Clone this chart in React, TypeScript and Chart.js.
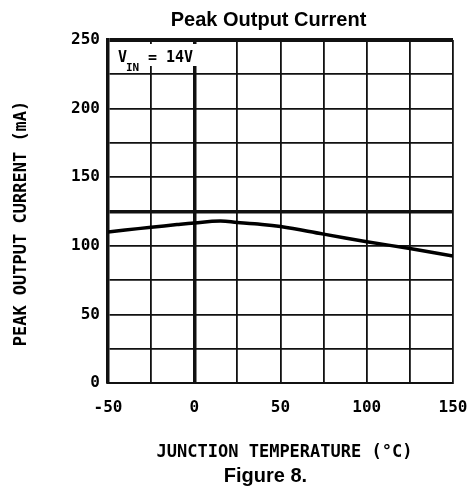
import React, { useEffect, useRef } from "react";
import { Chart, registerables } from "chart.js";

Chart.register(...registerables);

const temps = [-50, -40, -25, -10, 0, 15, 25, 35, 50, 75, 100, 125, 150];
const current = [110, 111.5, 113.5, 115.5, 116.7, 118, 117, 116, 114, 108.5, 103, 98, 92.5];
const xTickLabels = ["-50", "0", "50", "100", "150"];
const yTickLabels = ["0", "50", "100", "150", "200", "250"];
const chartTitle = "Peak Output Current";
const xTitle = "JUNCTION TEMPERATURE (°C)";
const yTitle = "PEAK OUTPUT CURRENT (mA)";
const caption = "Figure 8.";

const MONO = '"DejaVu Sans Mono", monospace';
const SANS = '"Liberation Sans", Arial, sans-serif';

const textPlugin = {
  id: "textPlugin",
  afterDraw(chart: any) {
    const ctx = chart.ctx as CanvasRenderingContext2D;
    const a = chart.chartArea;
    ctx.save();
    ctx.fillStyle = "#000";
    ctx.textAlign = "center";
    ctx.textBaseline = "middle";
    ctx.font = `bold 20px ${SANS}`;
    ctx.fillText(chartTitle, (a.left + a.right) / 2 - 12, a.top - 20);
    ctx.font = `bold 17px ${MONO}`;
    ctx.fillText(xTitle, (a.left + a.right) / 2 + 4, a.bottom + 70);
    ctx.font = `bold 20px ${SANS}`;
    ctx.fillText(caption, (a.left + a.right) / 2 - 15, a.bottom + 93);
    ctx.save();
    ctx.translate(22, (a.top + a.bottom) / 2 + 12);
    ctx.rotate(-Math.PI / 2);
    ctx.font = `bold 17px ${MONO}`;
    ctx.fillText(yTitle, 0, 0);
    ctx.restore();
    ctx.fillStyle = "#fff";
    ctx.fillRect(a.left + 5, a.top + 4, 88, 22);
    ctx.fillStyle = "#000";
    ctx.textAlign = "left";
    ctx.textBaseline = "alphabetic";
    ctx.font = `bold 15px ${MONO}`;
    ctx.fillText("V", a.left + 10, a.top + 22);
    ctx.font = `bold 11px ${MONO}`;
    ctx.fillText("IN", a.left + 18, a.top + 31);
    ctx.font = `bold 15px ${MONO}`;
    ctx.fillText("= 14V", a.left + 40, a.top + 22);
    ctx.restore();
  },
};

export default function App() {
  const ref = useRef<HTMLCanvasElement>(null);
  useEffect(() => {
    if (!ref.current) return;
    const chart = new Chart(ref.current, {
      type: "line",
      data: {
        datasets: [
          {
            data: temps.map((t, i) => ({ x: t, y: current[i] })),
            borderColor: "#000",
            borderWidth: 3.5,
            pointRadius: 0,
            tension: 0.4,
            fill: false,
          },
        ],
      },
      options: {
        animation: false,
        responsive: false,
        layout: { padding: { top: 40, right: 17, left: 0, bottom: 0 } },
        plugins: { legend: { display: false }, title: { display: false }, tooltip: { enabled: false } },
        scales: {
          x: {
            type: "linear",
            min: -50,
            max: 150,
            afterFit: (s: any) => {
              s.height = 108;
              s.paddingLeft = 0;
              s.paddingRight = 0;
            },
            ticks: {
              stepSize: 25,
              autoSkip: false,
              maxRotation: 0,
              padding: 15,
              color: "#000",
              font: { family: MONO, size: 16, weight: "bold" },
              callback: (v: any) => {
                const s = String(v);
                return xTickLabels.includes(s) ? s : "";
              },
            },
            grid: {
              color: "#111",
              drawTicks: false,
              lineWidth: (c: any) => (c.tick && c.tick.value === 0 ? 3.5 : 1.8),
            },
            border: { display: true, color: "#111", width: 2 },
          },
          y: {
            type: "linear",
            min: 0,
            max: 250,
            afterFit: (s: any) => {
              s.width = 108;
              s.paddingTop = 0;
              s.paddingBottom = 0;
            },
            ticks: {
              stepSize: 25,
              autoSkip: false,
              padding: 8,
              color: "#000",
              font: { family: MONO, size: 16, weight: "bold" },
              callback: (v: any) => {
                const s = String(v);
                return yTickLabels.includes(s) ? s : "";
              },
            },
            grid: {
              color: "#111",
              drawTicks: false,
              lineWidth: (c: any) => {
                const v = c.tick ? c.tick.value : -1;
                if (v === 250) return 4;
                if (v === 125) return 3.5;
                return 1.8;
              },
            },
            border: { display: true, color: "#111", width: 3.5 },
          },
        },
      },
      plugins: [textPlugin],
    });
    return () => chart.destroy();
  }, []);
  return (
    <div style={{ position: "absolute", left: 0, top: 0, width: 470, height: 491, background: "#fff" }}>
      <canvas ref={ref} width={470} height={491} style={{ display: "block" }} />
    </div>
  );
}
